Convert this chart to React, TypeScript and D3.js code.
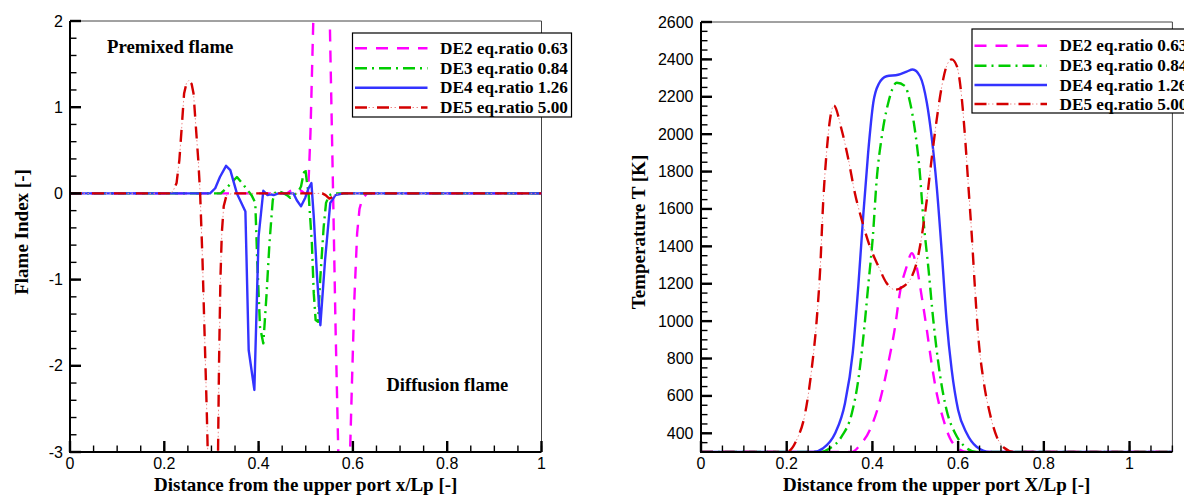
import React from 'react';
import * as d3 from 'd3';

type Pt = [number, number];

const seriesNames = ['DE2 eq.ratio 0.63', 'DE3 eq.ratio 0.84', 'DE4 eq.ratio 1.26', 'DE5 eq.ratio 5.00'];

// Flame index (left chart)
const de2Flame: Pt[] = [[0,0],[0.46,0],[0.468,0.03],[0.478,0.05],[0.488,0.04],[0.498,0],[0.505,0],[0.51,0.7],[0.516,2],[0.522,4],[0.545,4],[0.551,2],[0.558,0],[0.563,-1.5],[0.569,-3],[0.572,-4],[0.59,-4],[0.594,-3],[0.598,-2.2],[0.603,-1.24],[0.609,-0.46],[0.614,-0.18],[0.62,-0.06],[0.63,0],[1,0]];
const de3Flame: Pt[] = [[0,0],[0.32,0],[0.335,0.08],[0.354,0.19],[0.368,0.1],[0.376,0.04],[0.385,-0.02],[0.393,-0.11],[0.397,-0.77],[0.403,-1.55],[0.41,-1.74],[0.417,-1.16],[0.423,-0.58],[0.43,-0.08],[0.434,0],[0.44,0.03],[0.45,0.01],[0.46,-0.02],[0.467,-0.05],[0.475,-0.02],[0.484,0.02],[0.49,0.08],[0.495,0.22],[0.499,0.29],[0.502,0.15],[0.506,0],[0.513,-0.58],[0.517,-1.16],[0.521,-1.47],[0.526,-1.49],[0.531,-0.97],[0.538,-0.39],[0.543,-0.11],[0.55,-0.02],[0.56,0],[1,0]];
const de4Flame: Pt[] = [[0,0],[0.297,0],[0.308,0.06],[0.318,0.19],[0.331,0.32],[0.34,0.27],[0.354,0],[0.372,-0.21],[0.379,-1.82],[0.391,-2.28],[0.4,-0.5],[0.41,0.03],[0.419,-0.02],[0.425,-0.01],[0.432,-0.02],[0.442,0],[0.46,0],[0.474,0],[0.481,-0.08],[0.49,-0.15],[0.499,-0.05],[0.506,0.06],[0.512,0.12],[0.517,-0.27],[0.524,-0.97],[0.531,-1.53],[0.541,-0.77],[0.552,-0.11],[0.563,-0.02],[0.58,0],[1,0]];
const de5Flame: Pt[] = [[0,0],[0.21,0],[0.218,0.02],[0.226,0.12],[0.232,0.39],[0.237,0.77],[0.242,1.16],[0.247,1.28],[0.252,1.31],[0.258,1.27],[0.262,1.16],[0.267,0.77],[0.272,0.39],[0.276,0],[0.281,-0.77],[0.285,-1.55],[0.29,-2.51],[0.293,-3.2],[0.296,-4],[0.31,-4],[0.314,-3],[0.316,-2.0],[0.319,-1.0],[0.322,-0.46],[0.326,-0.15],[0.332,-0.02],[0.345,0],[0.535,0],[0.542,-0.02],[0.55,-0.06],[0.557,-0.04],[0.565,-0.01],[0.58,0],[1,0]];

// Temperature (right chart)
const de2Temp: Pt[] = [[0,300],[0.352,300],[0.371,337],[0.394,418],[0.418,579],[0.437,775],[0.453,971],[0.464,1150],[0.48,1293],[0.492,1364],[0.503,1293],[0.515,1132],[0.527,953],[0.538,775],[0.55,614],[0.566,471],[0.581,373],[0.6,320],[0.62,300],[1.1,300]];
const de3Temp: Pt[] = [[0,300],[0.278,300],[0.301,320],[0.328,382],[0.352,507],[0.367,686],[0.379,918],[0.39,1185],[0.401,1453],[0.41,1757],[0.422,1989],[0.437,2168],[0.457,2275],[0.476,2257],[0.488,2168],[0.499,2025],[0.51,1810],[0.519,1543],[0.531,1275],[0.542,1007],[0.556,739],[0.573,525],[0.593,400],[0.616,328],[0.643,300],[1.1,300]];
const de4Temp: Pt[] = [[0,300],[0.262,300],[0.285,320],[0.313,400],[0.336,561],[0.354,829],[0.367,1185],[0.379,1578],[0.39,1900],[0.402,2168],[0.415,2270],[0.433,2310],[0.46,2318],[0.48,2335],[0.494,2346],[0.511,2310],[0.527,2168],[0.538,1989],[0.55,1721],[0.562,1364],[0.573,1007],[0.585,739],[0.6,525],[0.62,400],[0.643,328],[0.674,300],[1.1,300]];
const de5Temp: Pt[] = [[0,300],[0.2,300],[0.223,364],[0.243,507],[0.258,739],[0.27,1007],[0.278,1275],[0.285,1632],[0.293,1900],[0.301,2078],[0.31,2153],[0.328,2025],[0.344,1864],[0.359,1686],[0.375,1543],[0.394,1400],[0.414,1293],[0.433,1204],[0.453,1168],[0.472,1185],[0.492,1239],[0.503,1311],[0.515,1453],[0.527,1650],[0.538,1864],[0.55,2078],[0.562,2257],[0.573,2364],[0.585,2400],[0.597,2364],[0.608,2203],[0.616,1989],[0.624,1721],[0.632,1453],[0.639,1185],[0.647,918],[0.659,686],[0.674,507],[0.69,382],[0.709,320],[0.729,300],[1.1,300]];

const flameXTicks = [0, 0.2, 0.4, 0.6, 0.8, 1];
const flameXLabels = ['0', '0.2', '0.4', '0.6', '0.8', '1'];
const flameYTicks = [-3, -2, -1, 0, 1, 2];
const flameYLabels = ['-3', '-2', '-1', '0', '1', '2'];
const tempXTicks = [0, 0.2, 0.4, 0.6, 0.8, 1];
const tempXLabels = ['0', '0.2', '0.4', '0.6', '0.8', '1'];
const tempYTicks = [400, 600, 800, 1000, 1200, 1400, 1600, 1800, 2000, 2200, 2400, 2600];
const tempYLabels = tempYTicks.map(String);

const STYLES = [
  { color: '#ff00ff', dash: '12 9' },
  { color: '#00cc00', dash: '12 5 2 5' },
  { color: '#3333ff', dash: undefined as string | undefined },
  { color: '#d40000', dash: '12 10' },
];
const DOT_DASH = '0 13.5 1.5 2.5 1.5 3';

const SERIF = "'Liberation Serif', 'DejaVu Serif', serif";
const SANS = "'Liberation Sans', Arial, sans-serif";

type ChartProps = {
  id: string;
  x0: number; x1: number; y0: number; y1: number;
  xDomain: [number, number]; yDomain: [number, number];
  series: Pt[][];
  curve: d3.CurveFactory;
  xTicks: number[]; xLabels: string[]; xMinorStep: number;
  yTicks: number[]; yLabels: string[]; yMinorStep: number;
  xTitle: string; yTitle: string; yTitleX: number; yLabelX: number;
  legend: { x: number; y: number; rows: number[] };
};

function Chart(p: ChartProps) {
  const xs = d3.scaleLinear().domain(p.xDomain).range([p.x0, p.x1]);
  const ys = d3.scaleLinear().domain(p.yDomain).range([p.y0, p.y1]);
  const line = d3.line<Pt>().x(d => xs(d[0])).y(d => ys(d[1])).curve(p.curve);
  const xMinor = d3.range(p.xDomain[0], p.xDomain[1] + 1e-9, p.xMinorStep);
  const yStart = Math.ceil(p.yDomain[0] / p.yMinorStep) * p.yMinorStep;
  const yMinor = d3.range(yStart, p.yDomain[1] + 1e-9, p.yMinorStep);
  const lg = p.legend;
  return (
    <g>
      <defs>
        <clipPath id={p.id}>
          <rect x={p.x0} y={p.y1} width={p.x1 - p.x0} height={p.y0 - p.y1} />
        </clipPath>
      </defs>
      <line x1={p.x0} y1={p.y1} x2={p.x1} y2={p.y1} stroke="#444" strokeWidth={1} />
      <line x1={p.x1} y1={p.y1} x2={p.x1} y2={p.y0} stroke="#444" strokeWidth={1} />
      <g clipPath={`url(#${p.id})`}>
        {p.series.map((s, i) => (
          <g key={i}>
            <path d={line(s) || ''} fill="none" stroke={STYLES[i].color} strokeWidth={2.4}
              strokeDasharray={STYLES[i].dash} strokeLinejoin="round" />
            {i === 3 && (
              <path d={line(s) || ''} fill="none" stroke="#ee8888" strokeWidth={1}
                strokeDasharray={DOT_DASH} />
            )}
          </g>
        ))}
      </g>
      <line x1={p.x0} y1={p.y0} x2={p.x1} y2={p.y0} stroke="#000" strokeWidth={2} />
      <line x1={p.x0} y1={p.y0 + 1} x2={p.x0} y2={p.y1} stroke="#000" strokeWidth={2} />
      {xMinor.map((v, i) => (
        <line key={'xm' + i} x1={xs(v)} x2={xs(v)} y1={p.y0} y2={p.y0 - 6.5} stroke="#000" strokeWidth={1.4} />
      ))}
      {p.xTicks.map((v, i) => (
        <g key={'xt' + i}>
          <line x1={xs(v)} x2={xs(v)} y1={p.y0} y2={p.y0 - 11} stroke="#000" strokeWidth={2.4} />
          <text x={xs(v)} y={p.y0 + 17} textAnchor="middle" fontFamily={SANS} fontSize={16} fill="#000">{p.xLabels[i]}</text>
        </g>
      ))}
      {yMinor.map((v, i) => (
        <line key={'ym' + i} x1={p.x0} x2={p.x0 + 6.5} y1={ys(v)} y2={ys(v)} stroke="#000" strokeWidth={1.4} />
      ))}
      {p.yTicks.map((v, i) => (
        <g key={'yt' + i}>
          <line x1={p.x0} x2={p.x0 + 11} y1={ys(v)} y2={ys(v)} stroke="#000" strokeWidth={2.4} />
          <text x={p.yLabelX} y={ys(v) + 5.5} textAnchor="end" fontFamily={SANS} fontSize={16} fill="#000">{p.yLabels[i]}</text>
        </g>
      ))}
      <text x={(p.x0 + p.x1) / 2} y={491} textAnchor="middle" fontFamily={SERIF} fontWeight="bold" fontSize={19} fill="#000">{p.xTitle}</text>
      <text transform={`translate(${p.yTitleX},232) rotate(-90)`} textAnchor="middle" fontFamily={SERIF} fontWeight="bold" fontSize={19} fill="#000">{p.yTitle}</text>
      <rect x={lg.x} y={lg.y} width={219} height={84} fill="#fff" stroke="#000" strokeWidth={1.2} />
      {seriesNames.map((name, i) => (
        <g key={'lg' + i}>
          <line x1={lg.x + 2.5} x2={lg.x + 75} y1={lg.rows[i]} y2={lg.rows[i]} stroke={STYLES[i].color} strokeWidth={2.4} strokeDasharray={STYLES[i].dash} />
          {i === 3 && (
            <line x1={lg.x + 2.5} x2={lg.x + 75} y1={lg.rows[i]} y2={lg.rows[i]} stroke="#ee8888" strokeWidth={1} strokeDasharray={DOT_DASH} />
          )}
          <text x={lg.x + 87.5} y={lg.rows[i] + 5.5} fontFamily={SERIF} fontWeight="bold" fontSize={17.2} fill="#000">{name}</text>
        </g>
      ))}
    </g>
  );
}

export default function App() {
  return (
    <svg width={1184} height={496} style={{ position: 'absolute', left: 0, top: 0, background: '#fff' }}>
      <rect x={0} y={0} width={1184} height={496} fill="#fff" />
      <Chart id="clipFlame" x0={70} x1={541.5} y0={452} y1={21}
        xDomain={[0, 1]} yDomain={[-3, 2]}
        series={[de2Flame, de3Flame, de4Flame, de5Flame]} curve={d3.curveLinear}
        xTicks={flameXTicks} xLabels={flameXLabels} xMinorStep={0.05}
        yTicks={flameYTicks} yLabels={flameYLabels} yMinorStep={0.2}
        xTitle="Distance from the upper port x/Lp [-]" yTitle="Flame Index [-]" yTitleX={28} yLabelX={63}
        legend={{ x: 352.5, y: 33, rows: [48.3, 68.3, 87.7, 107.5] }} />
      <Chart id="clipTemp" x0={701} x1={1172.4} y0={452} y1={22}
        xDomain={[0, 1.1]} yDomain={[300, 2600]}
        series={[de2Temp, de3Temp, de4Temp, de5Temp]} curve={d3.curveMonotoneX}
        xTicks={tempXTicks} xLabels={tempXLabels} xMinorStep={0.05}
        yTicks={tempYTicks} yLabels={tempYLabels} yMinorStep={50}
        xTitle="Distance from the upper port X/Lp [-]" yTitle="Temperature T [K]" yTitleX={645} yLabelX={693.5}
        legend={{ x: 972, y: 29, rows: [45.7, 65.7, 85, 104] }} />
      <text x={107} y={52.5} fontFamily={SERIF} fontWeight="bold" fontSize={18.8} fill="#000">Premixed flame</text>
      <text x={386.5} y={391} fontFamily={SERIF} fontWeight="bold" fontSize={18.5} fill="#000">Diffusion flame</text>
    </svg>
  );
}
